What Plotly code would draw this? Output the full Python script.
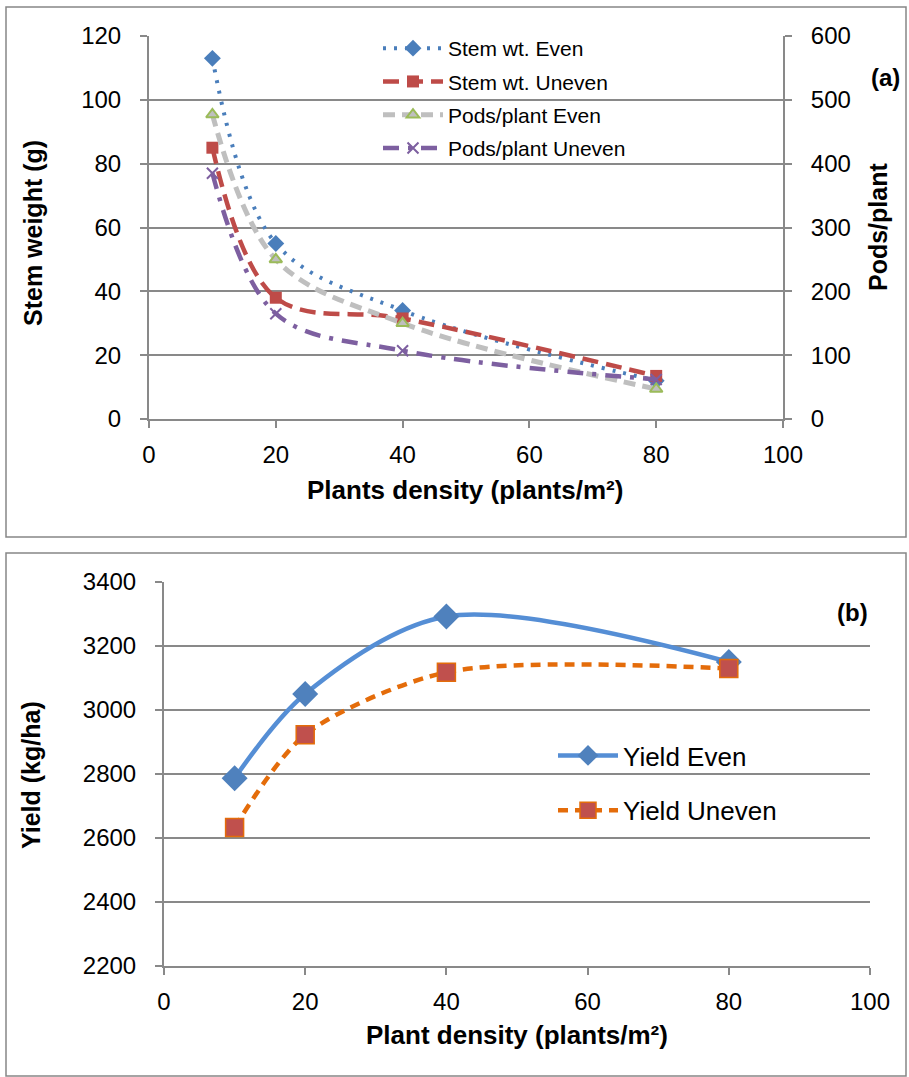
import plotly.graph_objects as go

W, H = 909, 1077

# ---- data ----
density = [10, 20, 40, 80]
stem_even = [113, 55, 34, 12]
stem_uneven = [85, 38, 31.5, 13.5]
pods_even = [477, 250, 150, 47]
pods_uneven = [385, 165, 107, 62]

yield_even = [2787, 3050, 3292, 3150]
yield_uneven = [2633, 2923, 3118, 3130]

FONT = "Arial, Liberation Sans, sans-serif"
GRID = "#898989"

def px_x(x):
    return x / W

def px_y(y):
    return 1 - y / H

fig = go.Figure()

# ---- panel (a) ----
fig.add_trace(go.Scatter(
    x=density, y=stem_even, name="Stem wt. Even", mode="lines+markers",
    line=dict(color="#4a7ebb", width=4, dash="3px,8px", shape="spline"),
    marker=dict(symbol="diamond", size=13, color="#4a7ebb"),
    xaxis="x", yaxis="y", legend="legend", legendgroup="a1"))
fig.add_trace(go.Scatter(
    x=density, y=stem_uneven, name="Stem wt. Uneven", mode="lines+markers",
    line=dict(color="#be4b48", width=4.5, dash="16px,8px", shape="spline"),
    marker=dict(symbol="square", size=12, color="#be4b48"),
    xaxis="x", yaxis="y", legend="legend", legendgroup="a2"))
fig.add_trace(go.Scatter(
    x=density, y=pods_even, name="Pods/plant Even", mode="lines+markers",
    line=dict(color="#bfbfbf", width=5, dash="12px,7px", shape="spline"),
    marker=dict(symbol="triangle-up", size=11, color="#bfbfbf",
                line=dict(color="#9bbb59", width=2)),
    xaxis="x", yaxis="y2", legend="legend", legendgroup="a3"))
fig.add_trace(go.Scatter(
    x=density, y=pods_uneven, name="Pods/plant Uneven", mode="lines+markers",
    line=dict(color="#7d5fa0", width=4.5, dash="16px,9px,4px,9px", shape="spline"),
    marker=dict(symbol="x-thin", size=11, color="#7d5fa0",
                line=dict(color="#7d5fa0", width=2)),
    xaxis="x", yaxis="y2", legend="legend", legendgroup="a4"))

# ---- panel (b) ----
fig.add_trace(go.Scatter(
    x=density, y=yield_even, name="Yield Even", mode="lines+markers",
    line=dict(color="#558ed5", width=4.5, shape="spline", smoothing=0.9),
    marker=dict(symbol="diamond", size=20, color="#4f81bd"),
    xaxis="x2", yaxis="y3", legend="legend2", legendgroup="b1"))
fig.add_trace(go.Scatter(
    x=density, y=yield_uneven, name="Yield Uneven", mode="lines+markers",
    line=dict(color="#e46c0a", width=4.5, dash="10px,7px", shape="spline",
              smoothing=0.8),
    marker=dict(symbol="square", size=18, color="#c0504d",
                line=dict(color="#e46c0a", width=1.5)),
    xaxis="x2", yaxis="y3", legend="legend2", legendgroup="b2"))

tickfont = dict(family=FONT, size=24, color="#000000")
common_y = dict(showgrid=True, gridcolor=GRID, gridwidth=2, showline=True,
                linecolor=GRID, linewidth=2, ticks="outside", ticklen=7,
                tickcolor=GRID, tickwidth=2, zeroline=False, tickfont=tickfont,
                automargin=False)
common_x = dict(showgrid=False, showline=True, linecolor=GRID, linewidth=2,
                ticks="outside", ticklen=7, tickcolor=GRID, tickwidth=2,
                zeroline=False, tickfont=tickfont, automargin=False)

fig.update_layout(
    width=W, height=H,
    margin=dict(l=0, r=0, t=0, b=0, autoexpand=False),
    paper_bgcolor="white", plot_bgcolor="white",
    font=dict(family=FONT, color="#000000"),
    xaxis=dict(domain=[px_x(149), px_x(783)], range=[0, 100], dtick=20,
               anchor="y", ticklabelstandoff=6, **common_x),
    yaxis=dict(domain=[px_y(419), px_y(36)], range=[0, 120], dtick=20,
               anchor="x", ticklabelstandoff=14, **common_y),
    yaxis2=dict(overlaying="y", side="right", range=[0, 600], dtick=100,
                anchor="x", showgrid=False, showline=True, linecolor=GRID,
                linewidth=2, ticks="outside", ticklen=7, tickcolor=GRID,
                tickwidth=2, zeroline=False, tickfont=tickfont,
                ticklabelstandoff=14, automargin=False),
    xaxis2=dict(domain=[px_x(164), px_x(870)], range=[0, 100], dtick=20,
                anchor="y3", ticklabelstandoff=6, **common_x),
    yaxis3=dict(domain=[px_y(966), px_y(582)], range=[2200, 3400], dtick=200,
                anchor="x2", ticklabelstandoff=14, **common_y),
    legend=dict(x=px_x(378), y=px_y(28), xanchor="left", yanchor="top",
                bgcolor="rgba(0,0,0,0)", font=dict(family=FONT, size=21),
                tracegroupgap=3, itemwidth=60),
    legend2=dict(x=px_x(553), y=px_y(732), xanchor="left", yanchor="top",
                 bgcolor="rgba(0,0,0,0)", font=dict(family=FONT, size=26),
                 tracegroupgap=18, itemwidth=60),
    showlegend=True,
)

# panel borders
fig.add_shape(type="rect", xref="paper", yref="paper",
              x0=px_x(6), x1=px_x(906), y0=px_y(537), y1=px_y(7),
              line=dict(color="#868686", width=1.5))
fig.add_shape(type="rect", xref="paper", yref="paper",
              x0=px_x(6), x1=px_x(906), y0=px_y(1076), y1=px_y(553),
              line=dict(color="#868686", width=1.5))

def ann(text, x, y, size=26, angle=0):
    fig.add_annotation(text=text, x=px_x(x), y=px_y(y), xref="paper",
                       yref="paper", showarrow=False, textangle=angle,
                       font=dict(family=FONT, size=size, color="#000000"),
                       xanchor="center", yanchor="middle")

ann("<b>(a)</b>", 885, 77, size=24)
ann("<b>(b)</b>", 852, 612, size=24)
ann("<b>Stem weight (g)</b>", 33, 233, size=25, angle=-90)
ann("<b>Pods/plant</b>", 878, 227, size=25, angle=-90)
ann("<b>Plants density (plants/m²)</b>", 465, 490)
ann("<b>Yield (kg/ha)</b>", 31, 775, size=25, angle=-90)
ann("<b>Plant density (plants/m²)</b>", 517, 1035)

fig.write_html("out.html")
